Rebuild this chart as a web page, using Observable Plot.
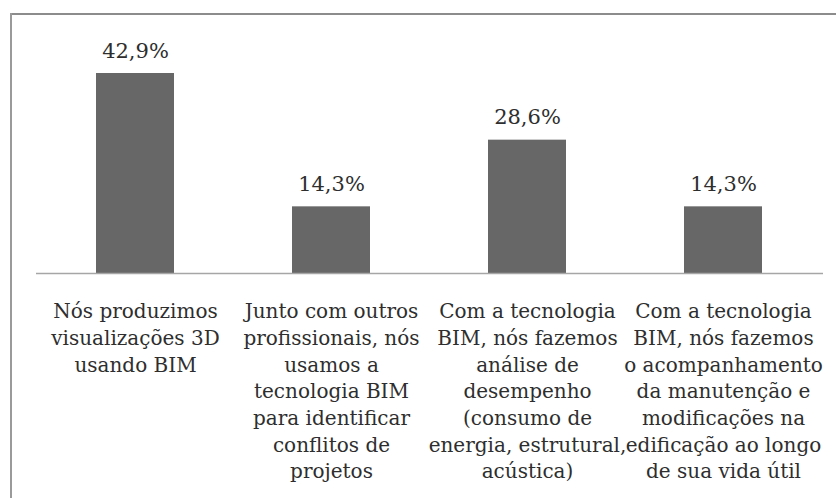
<!DOCTYPE html>
<html>
<head>
<meta charset="utf-8">
<script src="https://cdn.jsdelivr.net/npm/d3@7"></script>
<script src="https://cdn.jsdelivr.net/npm/@observablehq/plot@0.6"></script>
<style>
  html, body { margin: 0; padding: 0; background: #fff; overflow: hidden; }
  #wrap { position: relative; width: 836px; height: 498px; overflow: hidden; }
  #topline { position: absolute; left: 10px; top: 13px; width: 826px; height: 2px; background: #8c8c8c; }
  #leftline { position: absolute; left: 10px; top: 13px; width: 2px; height: 485px; background: #9a9a9a; }
  #chart { position: absolute; left: 0; top: 0; }
  #chart svg text { font-family: "DejaVu Serif" !important; }
</style>
</head>
<body>
<div id="wrap"><div id="topline"></div><div id="leftline"></div><div id="chart"></div></div>
<script>
const categories = [
  "Nós produzimos\nvisualizações 3D\nusando BIM",
  "Junto com outros\nprofissionais, nós\nusamos a\ntecnologia BIM\npara identificar\nconflitos de\nprojetos",
  "Com a tecnologia\nBIM, nós fazemos\nanálise de\ndesempenho\n(consumo de\nenergia, estrutural,\nacústica)",
  "Com a tecnologia\nBIM, nós fazemos\no acompanhamento\nda manutenção e\nmodificações na\nedificação ao longo\nde sua vida útil"
];
const values = [42.9, 14.3, 28.6, 14.3];
const valueLabels = ["42,9%", "14,3%", "28,6%", "14,3%"];

const data = categories.map((c, i) => ({cat: c, value: values[i], label: valueLabels[i]}));
const serif = "DejaVu Serif";

const chart = Plot.plot({
  width: 836,
  height: 498,
  marginLeft: 36,
  marginRight: 13,
  marginTop: 73,
  marginBottom: 225,
  style: {background: "transparent", color: "#2e2e2e"},
  x: {domain: categories, paddingInner: 0.6, paddingOuter: 0.3, label: null},
  y: {domain: [0, 42.9], axis: null},
  marks: [
    Plot.barY(data, {x: "cat", y: "value", fill: "#676767"}),
    Plot.ruleY([0], {stroke: "#a6a6a6", strokeWidth: 1.5}),
    Plot.text(data, {x: "cat", y: "value", text: "label", lineAnchor: "bottom", dy: -16, fontSize: 21, fontFamily: serif, fill: "#2e2e2e"}),
    Plot.axisX({tickSize: 0, tickPadding: 26, fontSize: 20, fontFamily: serif, lineHeight: 1.333, color: "#2e2e2e", label: null})
  ]
});
document.getElementById("chart").appendChild(chart);
</script>
</body>
</html>
